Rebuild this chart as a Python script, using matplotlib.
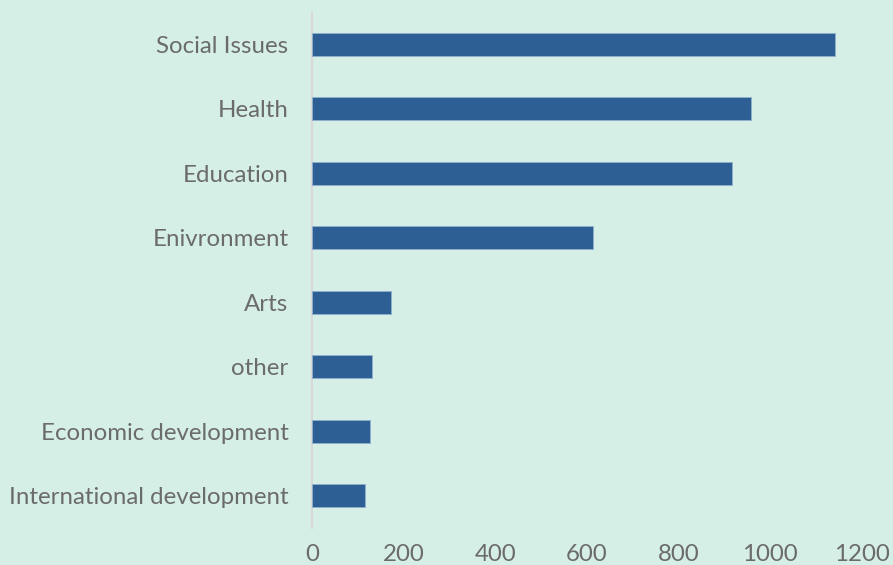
import matplotlib
matplotlib.use("Agg")
import matplotlib.pyplot as plt

categories = ["Social Issues", "Health", "Education", "Enivronment", "Arts",
              "other", "Economic development", "International development"]
values = [1140, 958, 917, 613, 172, 131, 127, 116]
xticks = [0, 200, 400, 600, 800, 1000, 1200]

plt.rcParams['font.family'] = ['Lato', 'DejaVu Sans']
bg = "#d5efe6"
fig = plt.figure(figsize=(8.93, 5.65), dpi=100, facecolor=bg)
ax = fig.add_axes([312/893, 1 - 528/565, (862-312)/893, (528-12)/565])
ax.set_facecolor(bg)

n = len(categories)
ypos = list(range(n))[::-1]
ax.barh(ypos, values, height=0.35, color="#2e5f94", edgecolor="#8fb0cf", linewidth=0.6, zorder=3)
ax.set_ylim(-0.5, n - 0.5)
ax.set_xlim(0, 1200)
ax.set_yticks(ypos)
ax.set_yticklabels(categories)
ax.set_xticks(xticks)
ax.set_xticklabels([str(t) for t in xticks])
ax.tick_params(axis='both', length=0, labelsize=17.3, labelcolor="#6b6b6b")
ax.tick_params(axis='y', pad=17)
ax.tick_params(axis='x', pad=11.5)
for s in ["top", "right", "bottom"]:
    ax.spines[s].set_visible(False)
ax.spines["left"].set_color("#d9d9d9")
ax.spines["left"].set_linewidth(1.5)

fig.savefig("out.png", dpi=100, facecolor=bg)
